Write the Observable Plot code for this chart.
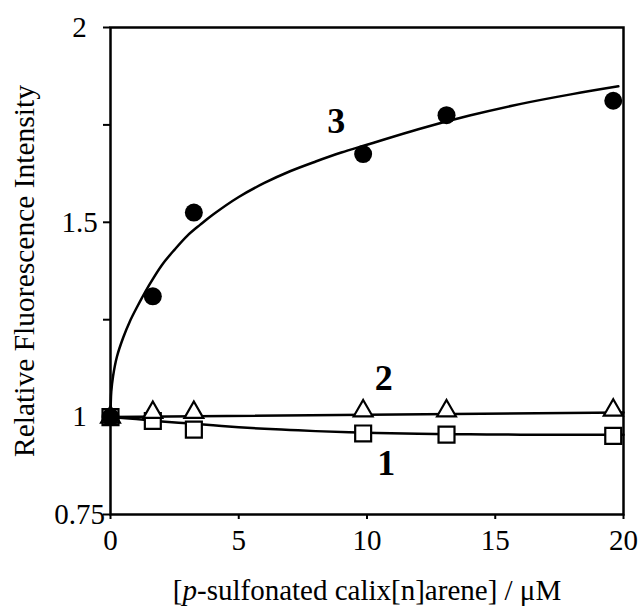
<!DOCTYPE html>
<html>
<head>
<meta charset="utf-8">
<script src="https://cdn.jsdelivr.net/npm/d3@7"></script>
<script src="https://cdn.jsdelivr.net/npm/@observablehq/plot@0.6"></script>
<style>
  html, body { margin: 0; padding: 0; background: #fff; }
</style>
</head>
<body>
<div id="chart"></div>
<script>
// Measured points: concentration (µM) and relative fluorescence intensity
const conc = [0, 1.65, 3.25, 9.85, 13.1, 19.6];
const series1 = [1.0, 0.99, 0.968, 0.958, 0.955, 0.952];   // open squares
const series2 = [1.0, 1.012, 1.012, 1.016, 1.016, 1.018]; // open triangles
const series3 = [1.0, 1.31, 1.525, 1.675, 1.775, 1.812];   // filled circles

// Fitted curves
const fit1X = [0, 1, 2, 3, 4, 5, 6, 7, 8, 10, 12, 14, 16, 18, 20];
const fit1Y = [1.0, 0.995, 0.989, 0.984, 0.979, 0.974, 0.97, 0.967, 0.964, 0.96, 0.957, 0.956, 0.955, 0.955, 0.955];
const fit2X = [0, 20];
const fit2Y = [1.0, 1.012];
const fit3X = [0, 0.03, 0.1, 0.25, 0.5, 0.75, 1, 1.5, 2, 2.5, 3, 3.5, 4, 5, 6, 7, 8, 9, 10, 12, 14, 16, 18, 19.8];
const fit3Y = [1.0, 1.065, 1.105, 1.155, 1.205, 1.245, 1.278, 1.338, 1.39, 1.43, 1.466, 1.494, 1.52, 1.565, 1.601, 1.631, 1.656, 1.679, 1.699, 1.739, 1.774, 1.804, 1.829, 1.849];

// Curve labels
const labelText = ["3", "2", "1"];
const labelX = [8.8, 10.65, 10.75];
const labelY = [1.76, 1.1, 0.882];

// Axis ticks
const xTicks = [0, 5, 10, 15, 20];
const yTicks = [0.75, 1, 1.25, 1.5, 1.75, 2];
const yTickLabels = [0.75, 1, 1.5, 2];

const xTitle = "[p-sulfonated calix[n]arene] / μM";
const yTitle = "Relative Fluorescence Intensity";

const pts = (xs, ys) => xs.map((x, i) => ({x, y: ys[i]}));
const d1 = pts(conc, series1), d2 = pts(conc, series2), d3p = pts(conc, series3);
const f1 = pts(fit1X, fit1Y), f2 = pts(fit2X, fit2Y), f3 = pts(fit3X, fit3Y);
const labels = labelText.map((t, i) => ({t, x: labelX[i], y: labelY[i]}));

const chart = Plot.plot({
  width: 642,
  height: 612,
  marginLeft: 110,
  marginRight: 19,
  marginTop: 27,
  marginBottom: 98,
  style: {fontFamily: "'Liberation Serif', 'Times New Roman', serif", fontSize: "29px", color: "#000", background: "#fff"},
  x: {domain: [0, 20]},
  y: {domain: [0.75, 2]},
  marks: [
    Plot.axisX({ticks: xTicks, tickSize: 5, tickPadding: 10, label: null, fontSize: 29}),
    Plot.axisY({ticks: yTicks, tickSize: 7, tickPadding: 24, label: null, fontSize: 29, textAnchor: "middle",
      tickFormat: d => yTickLabels.includes(d) ? String(d) : ""}),
    Plot.frame({stroke: "#000", strokeWidth: 2.5}),
    Plot.line(f1, {x: "x", y: "y", stroke: "#000", strokeWidth: 2.5, curve: "catmull-rom"}),
    Plot.line(f2, {x: "x", y: "y", stroke: "#000", strokeWidth: 2.5}),
    Plot.line(f3, {x: "x", y: "y", stroke: "#000", strokeWidth: 2.5, curve: "catmull-rom"}),
    Plot.dot(d1, {x: "x", y: "y", symbol: "square", r: 9, fill: "#fff", stroke: "#000", strokeWidth: 2.2}),
    Plot.dot(d2, {x: "x", y: "y", symbol: "triangle", r: 7, fill: "#fff", stroke: "#000", strokeWidth: 2.2}),
    Plot.dot(d3p, {x: "x", y: "y", symbol: "circle", r: 9, fill: "#000", stroke: "none"}),
    Plot.text(labels, {x: "x", y: "y", text: "t", fontSize: 36, fontWeight: "bold", fill: "#000"}),
    Plot.text([xTitle], {frameAnchor: "bottom", dy: 85, fontSize: 29, fill: "#000", className: "xtitle"}),
    Plot.text([yTitle], {frameAnchor: "left", dx: -86, rotate: -90, textAnchor: "middle", fontSize: 29.5, fill: "#000"})
  ]
});

document.getElementById("chart").appendChild(chart);

// thicker tick marks
d3.select(chart).selectAll("g[aria-label$='tick']").attr("stroke-width", 2);

// italic "p" in the x title
const t = d3.select(chart).select("g.xtitle text");
if (!t.empty()) {
  t.text(null);
  t.append("tspan").text("[");
  t.append("tspan").attr("font-style", "italic").text("p");
  t.append("tspan").text("-sulfonated calix[n]arene] / μM");
}
</script>
</body>
</html>
